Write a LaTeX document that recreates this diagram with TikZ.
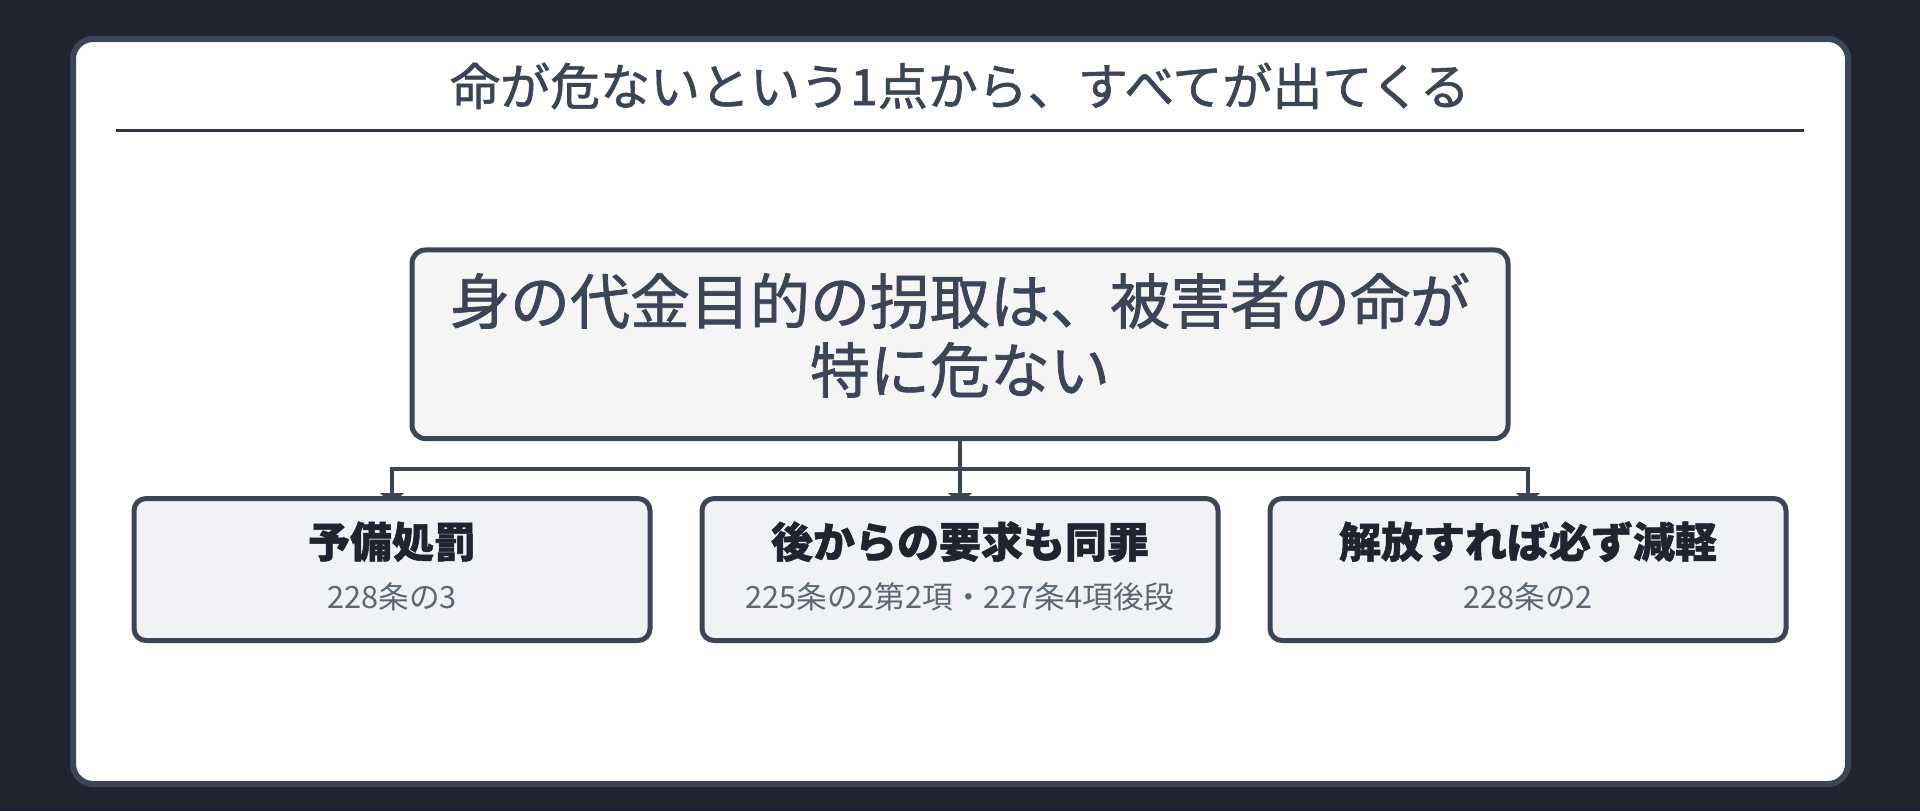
\documentclass[tikz,border=0pt]{standalone}
\usepackage{fontspec}
\setmainfont{Noto Sans CJK JP}
\newfontfamily\medfont{Noto Sans CJK JP}[FakeBold=1.2]
\newfontfamily\heavyfont{Noto Sans CJK JP}[BoldFeatures={FakeBold=1.2}]
\usetikzlibrary{arrows.meta,positioning,backgrounds}
\definecolor{darkbg}{HTML}{1F2430}
\definecolor{slate}{HTML}{3B4555}
\definecolor{rulecol}{HTML}{2F3643}
\definecolor{rootfill}{HTML}{F5F5F5}
\definecolor{leaffill}{HTML}{F0F2F5}
\definecolor{leafink}{HTML}{1F2430}
\definecolor{subgray}{HTML}{5C6675}
\newcommand{\leaftext}[2]{{\heavyfont\bfseries #1}\\{\color{subgray}\fontsize{23pt}{38pt}\selectfont #2}}

\begin{document}
\begin{tikzpicture}[x=0.75pt,y=-0.75pt,>={Triangle[width=18pt,length=7.5pt]},
  node distance=35.25pt,
  root node/.style={rectangle,rounded corners=10pt,draw=slate,fill=rootfill,
  line width=3.75pt,minimum width=822pt,minimum height=141.4pt,align=center,
  text=slate,text depth=17pt,font=\medfont\fontsize{45pt}{51.75pt}\selectfont},
  leaf node/.style={rectangle,rounded corners=9pt,draw=slate,fill=leaffill,
  line width=3.75pt,minimum width=387pt,minimum height=106.5pt,align=center,
  text=leafink,text depth=7pt,font=\fontsize{31.5pt}{38pt}\selectfont},
  bus/.style={to path={-- ++(0,28) -| (\tikztotarget)}},
  link/.style={draw=slate,line width=3pt,->,shorten >=-5.25pt}]

  \useasboundingbox (0,0) rectangle (1920,811);

  \node[text=slate,font=\medfont\fontsize{37.5pt}{45pt}\selectfont] (title) at (960,86)
    {命が危ないという1点から、すべてが出てくる};
  \draw[rulecol,line width=2.25pt] (116,130) -- (1804,130);

  \node[root node] (R) at (960,344.25) {身の代金目的の拐取は、被害者の命が\\特に危ない};
  \node[leaf node] (M) [below=41.25pt of R] {\leaftext{後からの要求も同罪}{225条の2第2項・227条4項後段}};
  \node[leaf node] (L) [left=of M] {\leaftext{予備処罰}{228条の3}};
  \node[leaf node] (E) [right=of M] {\leaftext{解放すれば必ず減軽}{228条の2}};

  \begin{scope}[on background layer]
    \fill[darkbg] (0,0) rectangle (1920,811);
    \draw[slate,fill=white,line width=4.5pt,rounded corners=15pt] (73,39) rectangle (1848,784);
    % connectors run under the boxes, so only the base of each tip shows
    \path (R.south) edge[link,bus] (L.north)
                    edge[link,bus] (M.north)
                    edge[link,bus] (E.north);
  \end{scope}
\end{tikzpicture}
\end{document}
